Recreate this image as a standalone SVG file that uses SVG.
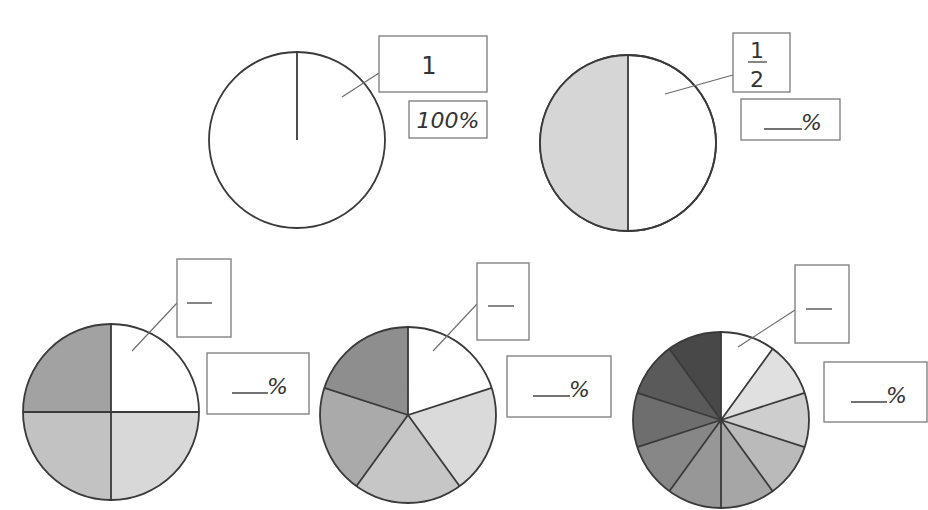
<svg xmlns="http://www.w3.org/2000/svg" width="928" height="510" viewBox="0 0 928 510">
<style>
.pie{stroke:#3a3a3a;stroke-width:1.8;stroke-linejoin:round}
.div{stroke:#3a3a3a;stroke-width:1.8;fill:none}
.box{fill:#fff;stroke:#7a7a7a;stroke-width:1.3}
.lead{stroke:#6a6a6a;stroke-width:1.1;fill:none}
.blank{stroke:#444;stroke-width:1.3}
.t{font-family:"DejaVu Sans","Liberation Sans",sans-serif;fill:#333}
.pct{font-family:"DejaVu Sans","Liberation Sans",sans-serif;font-style:italic;font-size:22px;fill:#333}
</style>
<rect width="928" height="510" fill="#fff"/>
<g id="pie1">
<circle class="pie" cx="297" cy="140" r="88" fill="#fff"/>
<line class="div" x1="297" y1="52" x2="297" y2="140"/>
</g>
<g id="pie2">
<circle class="pie" cx="628" cy="143" r="88" fill="#fff"/>
<path d="M628,55 A88,88 0 0 0 628,231 Z" fill="#d6d6d6"/>
<circle class="pie" cx="628" cy="143" r="88" fill="none"/>
<line class="div" x1="628" y1="55" x2="628" y2="231"/>
</g>
<g id="pie3">
<path d="M111,412 L111,324 A88,88 0 0 1 199,412 Z" fill="#fff"/>
<path d="M111,412 L199,412 A88,88 0 0 1 111,500 Z" fill="#d8d8d8"/>
<path d="M111,412 L111,500 A88,88 0 0 1 23,412 Z" fill="#c2c2c2"/>
<path d="M111,412 L23,412 A88,88 0 0 1 111,324 Z" fill="#a2a2a2"/>
<circle class="pie" cx="111" cy="412" r="88" fill="none"/>
<path class="div" d="M111,324 V500 M23,412 H199"/>
</g>
<g id="pie4">
<path d="M408,415 L408,327 A88,88 0 0 1 491.7,387.8 Z" fill="#fff"/>
<path d="M408,415 L491.7,387.8 A88,88 0 0 1 459.7,486.2 Z" fill="#dadada"/>
<path d="M408,415 L459.7,486.2 A88,88 0 0 1 356.3,486.2 Z" fill="#c6c6c6"/>
<path d="M408,415 L356.3,486.2 A88,88 0 0 1 324.3,387.8 Z" fill="#aaaaaa"/>
<path d="M408,415 L324.3,387.8 A88,88 0 0 1 408,327 Z" fill="#8e8e8e"/>
<circle class="pie" cx="408" cy="415" r="88" fill="none"/>
<path class="div" d="M408,327 V415 L491.7,387.8 M408,415 L459.7,486.2 M408,415 L356.3,486.2 M408,415 L324.3,387.8"/>
</g>
<g id="pie5">
<path d="M721,420 L721,332 A88,88 0 0 1 772.7,348.8 Z" fill="#fff"/>
<path d="M721,420 L772.7,348.8 A88,88 0 0 1 804.7,392.8 Z" fill="#e0e0e0"/>
<path d="M721,420 L804.7,392.8 A88,88 0 0 1 804.7,447.2 Z" fill="#cecece"/>
<path d="M721,420 L804.7,447.2 A88,88 0 0 1 772.7,491.2 Z" fill="#bababa"/>
<path d="M721,420 L772.7,491.2 A88,88 0 0 1 721,508 Z" fill="#a6a6a6"/>
<path d="M721,420 L721,508 A88,88 0 0 1 669.3,491.2 Z" fill="#979797"/>
<path d="M721,420 L669.3,491.2 A88,88 0 0 1 637.3,447.2 Z" fill="#878787"/>
<path d="M721,420 L637.3,447.2 A88,88 0 0 1 637.3,392.8 Z" fill="#6e6e6e"/>
<path d="M721,420 L637.3,392.8 A88,88 0 0 1 669.3,348.8 Z" fill="#5a5a5a"/>
<path d="M721,420 L669.3,348.8 A88,88 0 0 1 721,332 Z" fill="#484848"/>
<circle class="pie" cx="721" cy="420" r="88" fill="none"/>
<path class="div" d="M721,332 V508 M721,420 L772.7,348.8 M721,420 L804.7,392.8 M721,420 L804.7,447.2 M721,420 L772.7,491.2 M721,420 L669.3,491.2 M721,420 L637.3,447.2 M721,420 L637.3,392.8 M721,420 L669.3,348.8"/>
</g>
<g id="connectors">
<line class="lead" x1="342" y1="97" x2="379" y2="73"/>
<line class="lead" x1="665" y1="94" x2="733" y2="75"/>
<line class="lead" x1="132" y1="351" x2="177" y2="303"/>
<line class="lead" x1="433" y1="351" x2="477" y2="304"/>
<line class="lead" x1="738" y1="347" x2="795" y2="310"/>
</g>
<g id="label1">
<rect class="box" x="379" y="36" width="108" height="56"/>
<text class="t" x="429" y="74" font-size="24" text-anchor="middle">1</text>
</g>
<g id="pct1">
<rect class="box" x="409" y="101" width="78" height="37"/>
<text class="pct" x="448" y="128" text-anchor="middle">100%</text>
</g>
<g id="label2">
<rect class="box" x="733" y="33" width="57" height="59"/>
<text class="t" x="757" y="58" font-size="22" text-anchor="middle">1</text>
<line class="blank" x1="748" y1="62" x2="767" y2="62"/>
<text class="t" x="757" y="87" font-size="22" text-anchor="middle">2</text>
</g>
<g id="pct2">
<rect class="box" x="741" y="99" width="99" height="41"/>
<line class="blank" x1="764" y1="129" x2="802" y2="129"/>
<text class="pct" x="801" y="130">%</text>
</g>
<g id="label3">
<rect class="box" x="177" y="259" width="54" height="78"/>
<line class="blank" x1="187" y1="303" x2="212" y2="303"/>
</g>
<g id="pct3">
<rect class="box" x="207" y="353" width="102" height="61"/>
<line class="blank" x1="232" y1="393" x2="268" y2="393"/>
<text class="pct" x="267" y="394">%</text>
</g>
<g id="label4">
<rect class="box" x="477" y="263" width="52" height="77"/>
<line class="blank" x1="488" y1="306" x2="514" y2="306"/>
</g>
<g id="pct4">
<rect class="box" x="507" y="356" width="104" height="61"/>
<line class="blank" x1="533" y1="396" x2="570" y2="396"/>
<text class="pct" x="569" y="397">%</text>
</g>
<g id="label5">
<rect class="box" x="795" y="265" width="54" height="78"/>
<line class="blank" x1="806" y1="309" x2="832" y2="309"/>
</g>
<g id="pct5">
<rect class="box" x="824" y="362" width="103" height="60"/>
<line class="blank" x1="851" y1="402" x2="887" y2="402"/>
<text class="pct" x="886" y="403">%</text>
</g>
</svg>
